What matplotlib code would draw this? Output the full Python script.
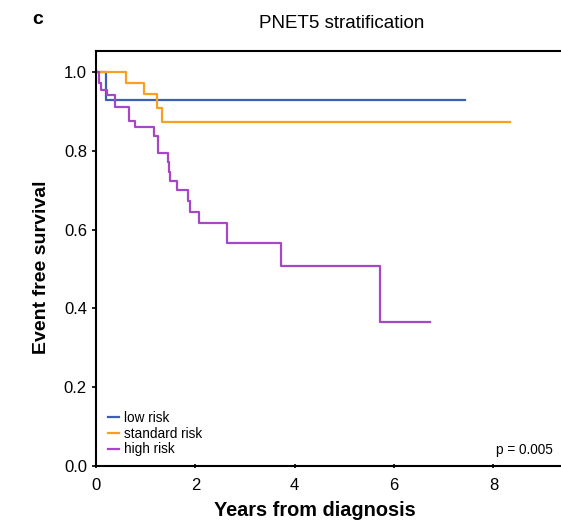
import matplotlib
matplotlib.use("Agg")
import matplotlib.pyplot as plt

plt.rcParams['font.family'] = ['Liberation Sans', 'DejaVu Sans']

# Kaplan-Meier steps: (time of drop, survival after drop)
low_t = [0.0, 0.21, 7.42]
low_s = [1.0, 0.928, 0.928]

std_t = [0.0, 0.60, 0.97, 1.23, 1.32, 8.33]
std_s = [1.0, 0.973, 0.945, 0.909, 0.874, 0.874]

high_t = [0.0, 0.07, 0.10, 0.22, 0.39, 0.66, 0.79, 1.16, 1.24, 1.44, 1.46, 1.48,
          1.63, 1.85, 1.89, 2.08, 2.64, 3.72, 5.71, 6.72]
high_s = [1.0, 0.971, 0.954, 0.941, 0.910, 0.876, 0.859, 0.838, 0.795, 0.772, 0.747, 0.724,
          0.700, 0.673, 0.645, 0.616, 0.567, 0.507, 0.365, 0.365]

labels = ['low risk', 'standard risk', 'high risk']
colors = ['#3d5fb3', '#f7a021', '#a547c6']

fig = plt.figure(figsize=(5.61, 5.26), dpi=100)
ax = fig.add_axes([96 / 561, 60 / 526, 1 - 96 / 561, 415 / 526])

for t, s, lab, c in zip([low_t, std_t, high_t], [low_s, std_s, high_s], labels, colors):
    ax.step(t, s, where='post', color=c, lw=1.6, label=lab)

ax.set_xlim(0, 9.36)
ax.set_ylim(0, 1.053)
ax.set_xticks([0, 2, 4, 6, 8])
ax.set_yticks([0.0, 0.2, 0.4, 0.6, 0.8, 1.0])
ax.set_yticklabels(['0.0', '0.2', '0.4', '0.6', '0.8', '1.0'])
ax.spines['right'].set_visible(False)
for sp in ['left', 'bottom', 'top']:
    ax.spines[sp].set_linewidth(1.5)
ax.tick_params(axis='both', labelsize=12, width=1.2, length=3)
ax.tick_params(axis='x', direction='inout', pad=7)
ax.tick_params(axis='y', direction='out')

ax.set_xlabel('Years from diagnosis', fontsize=14.3, fontweight='bold')
ax.xaxis.set_label_coords(0.471, -0.084)
ax.set_ylabel('Event free survival', fontsize=14, fontweight='bold')
ax.yaxis.set_label_coords(-0.099, 0.48)
fig.text(342 / 561, 1 - 23 / 526, 'PNET5 stratification', fontsize=13.5,
         ha='center', va='center')
fig.text(32 / 561, 1 - 19 / 526, 'c', fontsize=14, fontweight='bold',
         ha='left', va='center')

leg = ax.legend(loc='lower left', bbox_to_anchor=(0.006, 0.0), frameon=False,
                fontsize=9.8, handlelength=0.8, handletextpad=0.35,
                labelspacing=0.12, borderaxespad=0.3)
ax.text(0.983, 0.022, 'p = 0.005', transform=ax.transAxes, fontsize=9.8,
        ha='right', va='bottom')

fig.savefig('out.png', dpi=100)
